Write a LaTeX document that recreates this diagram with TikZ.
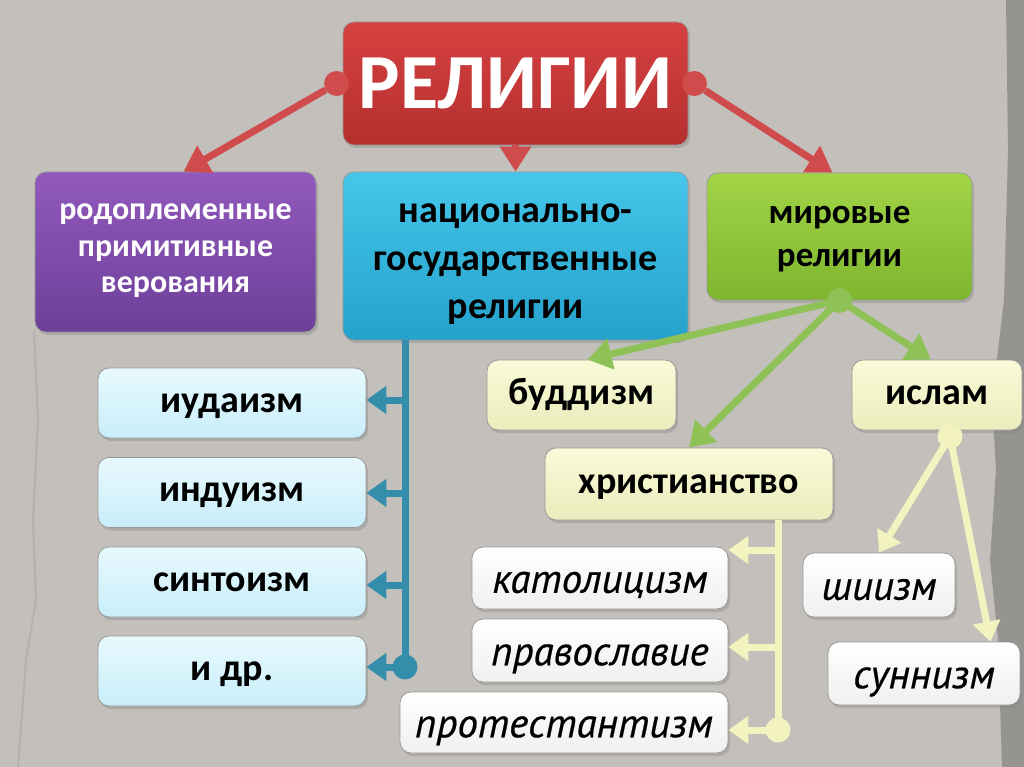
\documentclass[tikz,border=0pt]{standalone}
\usepackage{fontspec}
\setmainfont{Carlito}
\newfontfamily\cursive{PT Sans}[ItalicFeatures={FakeBold=0.5}]
\usetikzlibrary{arrows.meta,shadows}

\definecolor{bgGray}{HTML}{C3BFBA}
\definecolor{edgeGray}{HTML}{969491}
\definecolor{relRed}{HTML}{D64141}
\definecolor{relRedDk}{HTML}{B52F2F}
\definecolor{tribViolet}{HTML}{9159BC}
\definecolor{tribVioletDk}{HTML}{6E3F9A}
\definecolor{natBlue}{HTML}{45C6EA}
\definecolor{natBlueDk}{HTML}{25A2CC}
\definecolor{worldGreen}{HTML}{A2D447}
\definecolor{worldGreenDk}{HTML}{7EB62E}
\definecolor{paleYellow}{HTML}{F9FAD8}
\definecolor{paleYellowDk}{HTML}{EAEDBC}
\definecolor{paleBlue}{HTML}{E8F9FE}
\definecolor{paleBlueDk}{HTML}{C8EEF9}
\definecolor{lineRed}{HTML}{D04B4B}
\definecolor{lineBlue}{HTML}{348DAB}
\definecolor{lineGreen}{HTML}{8FC256}
\definecolor{lineYellow}{HTML}{F3F3C0}

\newcommand\topgap[1]{\rule{0pt}{#1}}
\newcommand\botgap[1]{\rule[-#1]{0pt}{0pt}}

\tikzset{
  box/.style={rounded corners=11pt, draw=black!40, line width=0.8pt,
    align=center, inner sep=0pt,
    drop shadow={shadow xshift=2pt,shadow yshift=-3pt,opacity=.35}},
  redbox/.style={box, top color=relRed, bottom color=relRedDk},
  violetbox/.style={box, top color=tribViolet, bottom color=tribVioletDk},
  bluebox/.style={box, top color=natBlue, bottom color=natBlueDk},
  greenbox/.style={box, top color=worldGreen, bottom color=worldGreenDk},
  yellowbox/.style={box, top color=paleYellow, bottom color=paleYellowDk,
    font=\fontsize{38}{40}\selectfont\bfseries, text height=24pt, text depth=6pt},
  lightbox/.style={box, top color=paleBlue, bottom color=paleBlueDk,
    font=\fontsize{38}{40}\selectfont\bfseries, text height=24pt, text depth=6pt},
  whitebox/.style={box, top color=white, bottom color=black!6,
    font=\fontsize{41}{43}\selectfont\cursive\itshape, text height=35.5pt, text depth=6pt},
  tip/.style={-{Triangle[length=20pt,width=27pt]}},
  redline/.style={lineRed, line width=7pt, -{Triangle[length=25pt,width=30pt]}},
  blueline/.style={lineBlue, line width=7pt},
  greenline/.style={lineGreen, line width=7pt, -{Triangle[length=24pt,width=30pt]}},
  yellowline/.style={lineYellow, line width=7pt},
  dot/.style={circle, inner sep=0pt, minimum size=25pt}
}

\begin{document}
\begin{tikzpicture}[x=1pt,y=-1pt]
\useasboundingbox (0,0) rectangle (1024,767);
% backdrop
\fill[bgGray] (0,0) rectangle (1024,767);
\fill[edgeGray] (1006,0) -- (1024,0) -- (1024,767) -- (1002,767) -- (998,640)
  -- (990,560) -- (996,470) -- (992,400) -- (1004,300) -- (1008,150) -- cycle;
\draw[black!30, line width=2pt] (34,330) -- (38,420) -- (33,520) -- (36,600)
  -- (26,660) -- (18,767);

% top level
\node[redbox, minimum width=345pt, minimum height=123pt, text=white,
  font=\fontsize{78}{80}\selectfont\bfseries] (rel) at (515.5,83.5) {РЕЛИГИИ};
\node[violetbox, minimum width=281pt, minimum height=160pt, text=white,
  font=\fontsize{32}{36.5}\selectfont\bfseries] (tribal) at (175.5,252)
  {\topgap{18pt}родоплеменные\\примитивные\\верования\botgap{10pt}};
\node[bluebox, minimum width=345pt, minimum height=168pt,
  font=\fontsize{38}{48}\selectfont\bfseries] (national) at (515.5,256)
  {\topgap{38pt}национально-\\государственные\\религии\botgap{10pt}};
\node[greenbox, minimum width=265pt, minimum height=127pt,
  font=\fontsize{35}{43}\selectfont\bfseries] (world) at (839.5,236.5)
  {\topgap{26.5pt}мировые\\религии\botgap{10pt}};

\node[dot, fill=lineRed] (relL) at ([xshift=-6pt]rel.west) {};
\node[dot, fill=lineRed] (relR) at ([xshift=6pt]rel.east) {};
\draw[redline] (relL) -- ([xshift=8pt]tribal.north);
\draw[redline] (relR) -- ([xshift=-7pt]world.north);
\draw[redline] (rel.south) -- (national.north);

% national religions
\foreach \nm/\txt/\yy in {jud/иудаизм/403, hind/индуизм/492.5,
    shin/синтоизм/582, etc/и др./671}
  \node[lightbox, minimum width=268pt, minimum height=70pt] (\nm) at (232,\yy) {\txt};
\coordinate (bt) at (405,340);
\coordinate (bb) at (405,667);
\draw[blueline] (bt) -- (bb);
\foreach \nm/\yy in {jud/400, hind/493, shin/585, etc/667}{
  \coordinate (q) at (405,\yy);
  \draw[blueline, tip] (q) -- (q -| \nm.east);
}
\node[dot, fill=lineBlue] at (bb) {};

% world religions
\node[yellowbox, minimum width=189pt, minimum height=70pt] (buddh) at (581.5,395) {буддизм};
\node[yellowbox, minimum width=170pt, minimum height=70pt] (islam) at (937,395) {ислам};
\node[yellowbox, minimum width=288pt, minimum height=72pt] (christ) at (689,484) {христианство};
\node[dot, fill=lineGreen] (wd) at (world.south) {};
\draw[greenline] (wd.center) -- ([xshift=6pt]buddh.north);
\draw[greenline] (wd.center) -- (christ.north);
\draw[greenline] (wd.center) -- ([xshift=-6pt]islam.north);

% christianity
\node[whitebox, minimum width=256pt, minimum height=62pt] (cath) at (600,578) {католицизм};
\node[whitebox, minimum width=256pt, minimum height=63pt] (orth) at (600,650.5) {православие};
\node[whitebox, minimum width=328pt, minimum height=61pt] (prot) at (564,722.5) {протестантизм};
\coordinate (ct) at (778,520);
\coordinate (cb) at (778,730);
\draw[yellowline] (ct) -- (cb);
\foreach \nm/\yy in {cath/550, orth/647, prot/730}{
  \coordinate (q) at (778,\yy);
  \draw[yellowline, tip] (q) -- (q -| \nm.east);
}
\node[dot, fill=lineYellow] at (cb) {};

% islam
\node[whitebox, minimum width=152pt, minimum height=64pt] (shia) at (879,585) {шиизм};
\node[whitebox, minimum width=192pt, minimum height=63pt] (sunni) at (924,673.5) {суннизм};
\node[dot, fill=lineYellow] (id) at ([xshift=13pt,yshift=-6pt]islam.south) {};
\draw[yellowline, tip] (id.center) -- (shia.north);
\draw[yellowline, tip] (id.center) -- ([xshift=-30pt]sunni.north east);
\end{tikzpicture}
\end{document}
